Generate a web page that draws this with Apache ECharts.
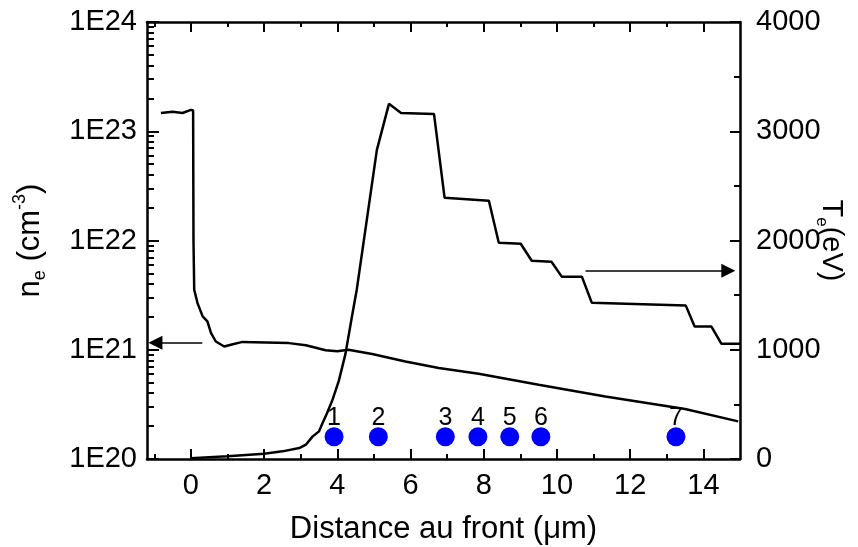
<!DOCTYPE html>
<html><head><meta charset="utf-8">
<script src="https://cdn.jsdelivr.net/npm/echarts@6/dist/echarts.min.js"></script>
<style>html,body{margin:0;padding:0;background:#fff}#c{width:858px;height:547px}</style>
</head><body><div id="c"></div>
<script>
// Electron density n_e (cm^-3), left log axis
const densX = [-0.82, -0.5, -0.23, 0.0, 0.06, 0.07, 0.09, 0.18, 0.32, 0.45, 0.55, 0.68, 0.91, 1.09, 1.41, 2.68, 3.14, 3.68, 4.0, 4.3, 4.95, 5.86, 6.77, 7.86, 9.5, 11.32, 13.5, 14.95];
const densY = [1.47e23, 1.51e23, 1.47e23, 1.57e23, 1.55e23, 1.0e22, 3.54e21, 2.67e21, 2.02e21, 1.82e21, 1.42e21, 1.19e21, 1.07e21, 1.11e21, 1.18e21, 1.15e21, 1.10e21, 9.9e20, 9.7e20, 1.0e21, 9.15e20, 7.8e20, 6.8e20, 6.03e20, 4.79e20, 3.74e20, 2.87e20, 2.21e20];
// Electron temperature T_e (eV), right axis
const teX = [0, 1, 2, 2.5, 2.96, 3.14, 3.32, 3.5, 3.59, 3.72, 3.86, 4.04, 4.22, 4.41, 4.53, 5.08, 5.41, 5.74, 6.64, 6.93, 8.14, 8.41, 9.01, 9.31, 9.85, 10.13, 10.68, 10.95, 13.52, 13.76, 14.22, 14.49, 15.0];
const teY = [8, 25, 48, 70, 100, 131, 205, 253, 325, 421, 535, 715, 960, 1325, 1549, 2830, 3251, 3168, 3159, 2391, 2364, 1979, 1970, 1815, 1806, 1669, 1669, 1431, 1404, 1212, 1212, 1056, 1056];
// Numbered measurement points
const markerX = [3.91, 5.12, 6.95, 7.84, 8.71, 9.56, 13.25];
const markerY = [1.6e20, 1.6e20, 1.6e20, 1.6e20, 1.6e20, 1.6e20, 1.6e20];
const markerLabels = ['1', '2', '3', '4', '5', '6', '7'];
// Arrows pointing to the axes
const arrowDensX = [0.31, -0.97];
const arrowDensY = [1.16e21, 1.16e21];
const arrowTeX = [10.78, 14.68];
const arrowTeY = [1723, 1723];
// Ticks
const xMajorTicks = [0, 2, 4, 6, 8, 10, 12, 14];
const xMinorTicks = [-1, 1, 3, 5, 7, 9, 11, 13];
const yLogMin = 1e20, yLogMax = 1e24;
const yLogMinorTicks = [2e20,3e20,4e20,5e20,6e20,7e20,8e20,9e20,2e21,3e21,4e21,5e21,6e21,7e21,8e21,9e21,2e22,3e22,4e22,5e22,6e22,7e22,8e22,9e22,2e23,3e23,4e23,5e23,6e23,7e23,8e23,9e23];
const teTicks = [0, 1000, 2000, 3000, 4000];
const teMinorTicks = [500, 1500, 2500, 3500];

const FONT = 'Liberation Sans, Arial, sans-serif';
const BLACK = '#000';
const XMIN = -1.2, XMAX = 15;

function xAxisDef(pos, ticks, len, opts) {
  return Object.assign({
    type: 'value', position: pos, min: XMIN, max: XMAX,
    axisLine: { show: false, onZero: false },
    axisTick: { show: true, inside: true, length: len, customValues: ticks, lineStyle: { color: BLACK, width: 2 } },
    axisLabel: { show: false },
    splitLine: { show: false }
  }, opts || {});
}

const chart = echarts.init(document.getElementById('c'), null, { renderer: 'canvas' });
chart.setOption({
  animation: false,
  backgroundColor: '#fff',
  grid: { left: 147, right: 118, top: 22, bottom: 88, outerBoundsMode: 'none', containLabel: false },
  xAxis: [
    xAxisDef('bottom', xMajorTicks, 10, {
      axisLine: { show: true, onZero: false, lineStyle: { color: BLACK, width: 2.5 } },
      axisLabel: { show: true, customValues: xMajorTicks, fontSize: 29, color: BLACK, fontFamily: FONT, margin: 12 },
      name: 'Distance au front (\u03bcm)', nameLocation: 'middle', nameGap: 55,
      nameTextStyle: { fontSize: 31, color: BLACK, fontFamily: FONT }
    }),
    xAxisDef('bottom', xMinorTicks, 5),
    xAxisDef('top', xMajorTicks, 10, { axisLine: { show: true, onZero: false, lineStyle: { color: BLACK, width: 2.5 } } }),
    xAxisDef('top', xMinorTicks, 5)
  ],
  yAxis: [
    {
      type: 'log', logBase: 10, position: 'left', min: yLogMin, max: yLogMax, splitNumber: 4,
      axisLine: { show: true, onZero: false, lineStyle: { color: BLACK, width: 2.5 } },
      axisTick: { show: true, inside: true, length: 12, lineStyle: { color: BLACK, width: 2 } },
      axisLabel: { show: true, showMaxLabel: true, showMinLabel: true, hideOverlap: false,
        fontSize: 29, color: BLACK, fontFamily: FONT, margin: 10,
        formatter: v => '1E' + Math.round(Math.log10(v)) },
      splitLine: { show: false },
      name: '{n|n}{sub|e}{n| (cm}{sup|-3}{n|)}', nameLocation: 'middle', nameGap: 98, nameRotate: 90,
      nameTextStyle: {
        color: BLACK, fontFamily: FONT,
        rich: {
          n: { fontSize: 31, fontFamily: FONT, color: BLACK, lineHeight: 38, verticalAlign: 'middle' },
          sub: { fontSize: 18, fontFamily: FONT, color: BLACK, lineHeight: 18, verticalAlign: 'bottom' },
          sup: { fontSize: 18, fontFamily: FONT, color: BLACK, lineHeight: 18, verticalAlign: 'top' }
        }
      }
    },
    {
      type: 'log', logBase: 10, position: 'left', min: yLogMin, max: yLogMax,
      axisLine: { show: false, onZero: false },
      axisTick: { show: true, inside: true, length: 7, customValues: yLogMinorTicks, lineStyle: { color: BLACK, width: 2 } },
      axisLabel: { show: false }, splitLine: { show: false }
    },
    {
      type: 'value', position: 'right', min: 0, max: 4000,
      axisLine: { show: true, onZero: false, lineStyle: { color: BLACK, width: 2.5 } },
      axisTick: { show: true, inside: true, length: 10, customValues: teTicks, lineStyle: { color: BLACK, width: 2 } },
      axisLabel: { show: true, customValues: teTicks, showMaxLabel: true, showMinLabel: true, hideOverlap: false,
        fontSize: 29, color: BLACK, fontFamily: FONT, margin: 16, formatter: v => String(v) },
      splitLine: { show: false },
      name: '{n|T}{sub|e}{n|(eV)}', nameLocation: 'middle', nameGap: 73, nameRotate: -90, nameMoveOverlap: false,
      nameTextStyle: {
        color: BLACK, fontFamily: FONT,
        rich: {
          n: { fontSize: 29, fontFamily: FONT, color: BLACK, lineHeight: 36, verticalAlign: 'middle' },
          sub: { fontSize: 17, fontFamily: FONT, color: BLACK, lineHeight: 17, verticalAlign: 'bottom' }
        }
      }
    },
    {
      type: 'value', position: 'right', min: 0, max: 4000,
      axisLine: { show: false, onZero: false },
      axisTick: { show: true, inside: true, length: 6, customValues: teMinorTicks, lineStyle: { color: BLACK, width: 2 } },
      axisLabel: { show: false }, splitLine: { show: false }
    }
  ],
  series: [
    {
      type: 'line', name: 'ne', xAxisIndex: 0, yAxisIndex: 0,
      data: densX.map((x, i) => [x, densY[i]]),
      showSymbol: false, symbol: 'none', smooth: false,
      lineStyle: { color: BLACK, width: 2.5 }, z: 3
    },
    {
      type: 'line', name: 'Te', xAxisIndex: 0, yAxisIndex: 2,
      data: teX.map((x, i) => [x, teY[i]]),
      showSymbol: false, symbol: 'none', smooth: false,
      lineStyle: { color: BLACK, width: 2.5 }, z: 3
    },
    {
      type: 'scatter', name: 'points', xAxisIndex: 0, yAxisIndex: 0,
      data: markerX.map((x, i) => ({ value: [x, markerY[i]], label: { formatter: markerLabels[i] } })),
      symbol: 'circle', symbolSize: 19,
      itemStyle: { color: '#0000ff', opacity: 1 },
      label: { show: true, position: 'top', distance: -3, fontSize: 25, color: BLACK, opacity: 1, fontFamily: FONT },
      emphasis: { disabled: true },
      z: 4
    },
    {
      type: 'lines', coordinateSystem: 'cartesian2d', xAxisIndex: 0, yAxisIndex: 0,
      data: [{ coords: [[arrowDensX[0], arrowDensY[0]], [arrowDensX[1], arrowDensY[1]]] }],
      symbol: ['none', 'triangle'], symbolSize: 14,
      lineStyle: { color: BLACK, width: 1.5, opacity: 1 }, z: 5
    },
    {
      type: 'lines', coordinateSystem: 'cartesian2d', xAxisIndex: 0, yAxisIndex: 2,
      data: [{ coords: [[arrowTeX[0], arrowTeY[0]], [arrowTeX[1], arrowTeY[1]]] }],
      symbol: ['none', 'triangle'], symbolSize: 14,
      lineStyle: { color: BLACK, width: 1.5, opacity: 1 }, z: 5
    }
  ]
});
</script></body></html>
